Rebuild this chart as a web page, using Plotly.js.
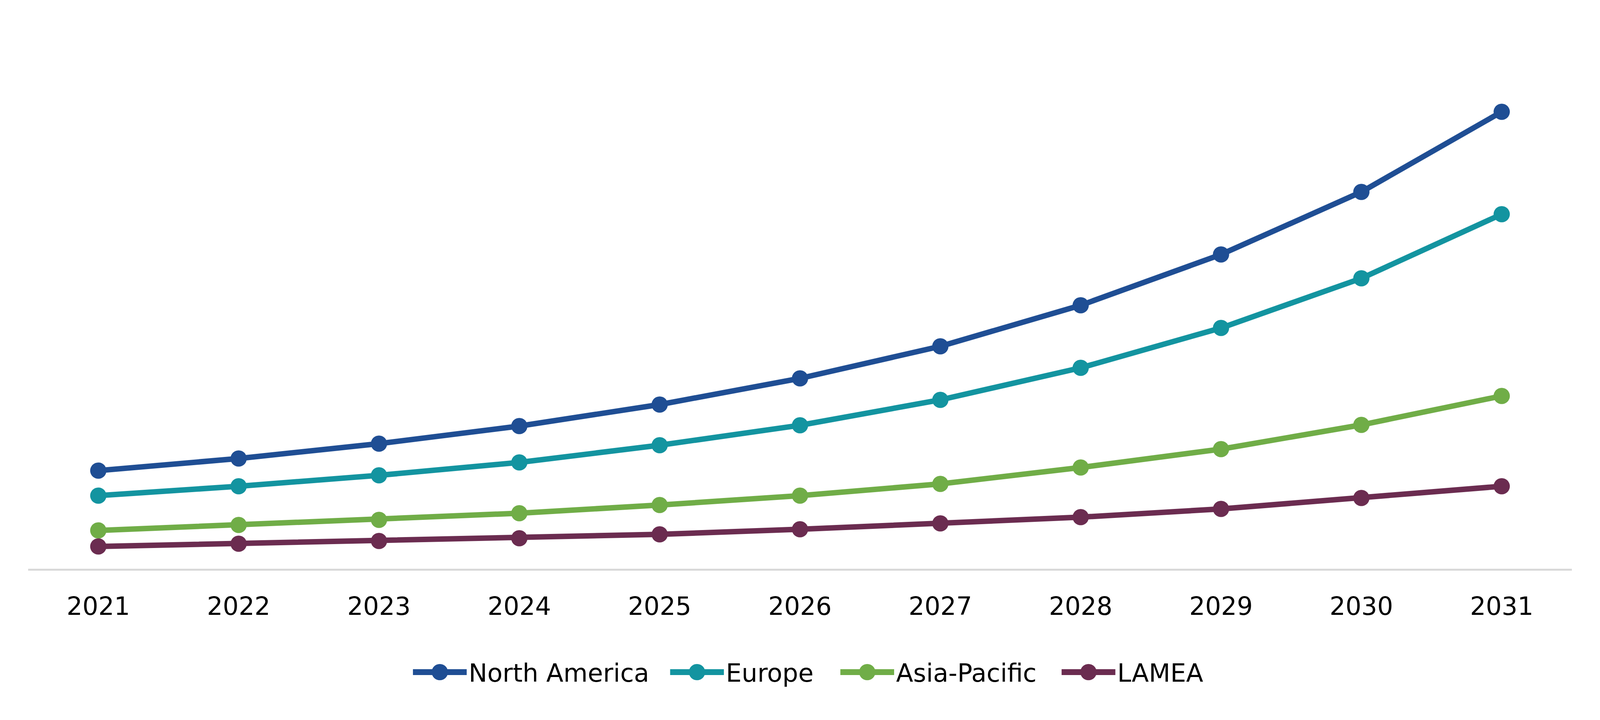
<!DOCTYPE html>
<html>
<head>
<meta charset="utf-8">
<script src="https://cdn.plot.ly/plotly-3.0.1.min.js"></script>
<style>
html, body { margin: 0; padding: 0; background: #ffffff; overflow: hidden; }
#chart { position: absolute; left: 0; top: 0; }
</style>
</head>
<body>
<div id="chart"></div>
<script>
// Data (relative units; no value axis shown)
const years = ['2021','2022','2023','2024','2025','2026','2027','2028','2029','2030','2031'];
const northAmerica = [25.1, 28.2, 32.0, 36.5, 42.0, 48.7, 56.9, 67.4, 80.4, 96.4, 116.9];
const europe       = [18.7, 21.1, 23.9, 27.2, 31.6, 36.7, 43.2, 51.4, 61.6, 74.3, 90.7];
const asiaPacific  = [ 9.8, 11.2, 12.5, 14.2, 16.3, 18.7, 21.7, 25.9, 30.6, 36.8, 44.2];
const lamea        = [ 5.7,  6.4,  7.1,  7.8,  8.8, 10.1, 11.6, 13.2, 15.3, 18.1, 21.1];
const seriesNames  = ['North America', 'Europe', 'Asia-Pacific', 'LAMEA'];
const seriesValues = [northAmerica, europe, asiaPacific, lamea];
const seriesColors = ['#1F4E94', '#1394A0', '#70AD47', '#6B2C50'];

// Layout is specified in reference pixels (5208 x 1842) and mapped onto the window
const REF_W = 5208, REF_H = 1842;
const W = window.innerWidth || REF_W;
const H = window.innerHeight || REF_H;
const sx = W / REF_W, sy = H / REF_H;
const sf = Math.sqrt(sx * sy);

const legendIds = ['legend', 'legend2', 'legend3', 'legend4'];
const legendX = [1338, 2175, 2729, 3449]; // left of each legend entry, reference px

const traces = seriesNames.map((name, i) => ({
  type: 'scatter',
  mode: 'lines+markers',
  name: name,
  x: years,
  y: seriesValues[i],
  line: { color: seriesColors[i], width: 14 * sy },
  marker: { color: seriesColors[i], size: 47 * sf },
  legend: legendIds[i],
  cliponaxis: false
}));

const plotLeft = 92, plotRight = 5116, plotTop = 105, plotBottom = 1455;
const fontFamily = 'Verdana, "DejaVu Sans", sans-serif';
const fontSize = 72 * sf;

function legendCfg(px) {
  return {
    orientation: 'h',
    x: (px - plotLeft) / (plotRight - plotLeft),
    xanchor: 'left',
    y: (plotBottom - 1720) / (plotBottom - plotTop),
    yanchor: 'middle',
    font: { family: fontFamily, size: fontSize, color: '#000000' },
    itemwidth: Math.max(30, 175 * sx),
    bgcolor: 'rgba(0,0,0,0)',
    borderwidth: 0
  };
}

const layout = {
  width: W,
  height: H,
  margin: { l: plotLeft * sx, r: (REF_W - plotRight) * sx, t: plotTop * sy, b: (REF_H - plotBottom) * sy, pad: 0 },
  paper_bgcolor: '#ffffff',
  plot_bgcolor: '#ffffff',
  showlegend: true,
  font: { family: fontFamily, size: fontSize, color: '#000000' },
  xaxis: {
    type: 'category',
    range: [-0.5, 10.5],
    showline: true,
    linecolor: '#D9D9D9',
    linewidth: 5 * sy,
    showgrid: false,
    zeroline: false,
    ticks: 'outside',
    ticklen: 36 * sy,
    tickcolor: 'rgba(0,0,0,0)',
    tickfont: { family: fontFamily, size: fontSize, color: '#000000' }
  },
  yaxis: {
    range: [0, 135],
    visible: false,
    showgrid: false,
    zeroline: false
  },
  legend: legendCfg(legendX[0]),
  legend2: legendCfg(legendX[1]),
  legend3: legendCfg(legendX[2]),
  legend4: legendCfg(legendX[3])
};

Plotly.newPlot('chart', traces, layout, { staticPlot: true }).then(() => {
  // enlarge legend symbols to match the reference look
  document.querySelectorAll('.legendpoints path.scatterpts').forEach(p => {
    const t = p.getAttribute('transform') || '';
    p.setAttribute('transform', t + ' scale(' + (47 * sf / 16) + ')');
  });
  document.querySelectorAll('.legendlines path').forEach(p => {
    p.style.strokeWidth = (15 * sy) + 'px';
  });
});
</script>
</body>
</html>
